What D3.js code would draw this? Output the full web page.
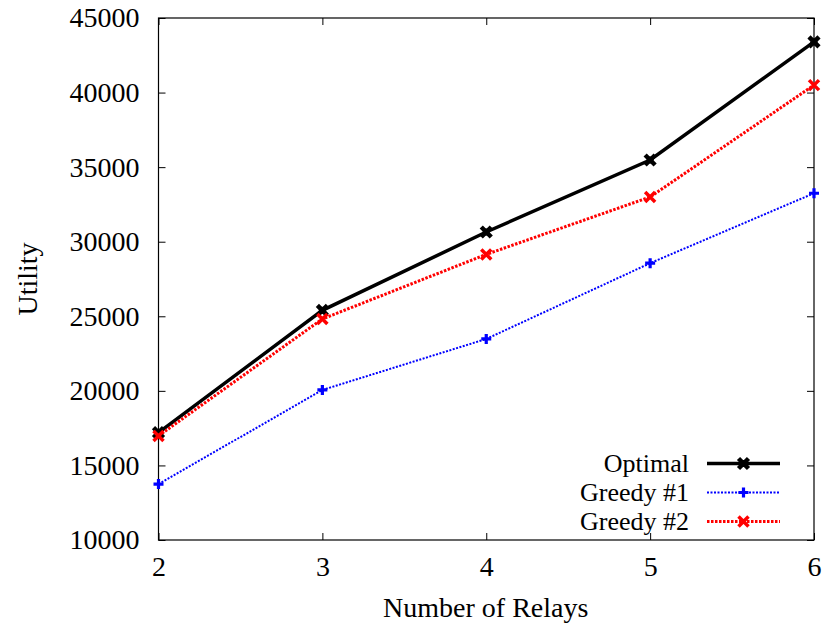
<!DOCTYPE html>
<html><head><meta charset="utf-8">
<script src="https://cdn.jsdelivr.net/npm/d3@7"></script>
<style>body{margin:0;background:#fff}svg{display:block}svg text{font-family:"Liberation Serif","Times New Roman",Times,serif !important;fill:#000}</style>
</head><body><svg id="c" width="827" height="630"></svg>
<script>
const relays = [2, 3, 4, 5, 6];
const optimal = [17200, 25400, 30650, 35480, 43400];
const greedy1 = [13750, 20060, 23480, 28560, 33250];
const greedy2 = [16980, 24820, 29150, 33000, 40500];
const yTicks = [10000, 15000, 20000, 25000, 30000, 35000, 40000, 45000];
const seriesNames = ["Optimal", "Greedy #1", "Greedy #2"];

const FONT = "'Liberation Serif', 'Times New Roman', serif";
const FS = 28;
const LFS = 26;
const svg = d3.select("#c");
const L = 158.5, R = 814, T = 18, B = 540;
const x = d3.scaleLinear().domain([2, 6]).range([L, R]);
const y = d3.scaleLinear().domain([10000, 45000]).range([B, T]);

const series = [
  {name: seriesNames[0], vals: optimal, color: "#000", width: 3.5, dash: null, marker: "bow"},
  {name: seriesNames[1], vals: greedy1, color: "#0000ff", width: 2, dash: "2,1.5", marker: "plus"},
  {name: seriesNames[2], vals: greedy2, color: "#ff0000", width: 3, dash: "2.5,1.5", marker: "x"}
];

const g = svg.append("g");
g.append("g").attr("transform", `translate(${L},0)`)
  .call(d3.axisLeft(y).tickValues(yTicks).tickSize(-7).tickPadding(19).tickFormat(d3.format("d")));
g.append("g").attr("transform", `translate(${R},0)`)
  .call(d3.axisRight(y).tickValues(yTicks).tickSize(-7).tickFormat(""));
g.append("g").attr("transform", `translate(0,${B})`)
  .call(d3.axisBottom(x).tickValues(relays).tickSize(-7).tickPadding(16).tickFormat(d3.format("d")));
g.append("g").attr("transform", `translate(0,${T})`)
  .call(d3.axisTop(x).tickValues(relays).tickSize(-7).tickFormat(""));
g.selectAll("g").attr("font-family", FONT).attr("font-size", FS);
g.selectAll(".domain").remove();
g.selectAll(".tick line").attr("stroke", "#000").attr("stroke-width", 1);
g.selectAll(".tick text").style("font-family", FONT).style("font-size", FS + "px");
svg.append("rect").attr("x", L).attr("y", T).attr("width", R - L).attr("height", B - T)
  .attr("fill", "none").attr("stroke", "#000").attr("stroke-width", 1.2);

svg.append("text").attr("x", (L + R) / 2 - 0.5).attr("y", 617).attr("text-anchor", "middle")
  .style("font-family", FONT).style("font-size", FS + "px").text("Number of Relays");
svg.append("text").attr("transform", "translate(37,279) rotate(-90)").attr("text-anchor", "middle")
  .style("font-family", FONT).style("font-size", FS + "px").text("Utility");

function marker(sel, type, color) {
  if (type === "plus") {
    sel.append("path").attr("d", "M-5,0H5M0,-5V5").attr("stroke", color).attr("stroke-width", 3.2);
  } else if (type === "x") {
    sel.append("path").attr("d", "M-5,-5L5,5M-5,5L5,-5").attr("stroke", color).attr("stroke-width", 3.5);
  } else {
    sel.append("path").attr("d", "M-5,-5L5,5M-5,5L5,-5").attr("stroke", color).attr("stroke-width", 4.5);
    sel.append("rect").attr("x", -3.5).attr("y", -3.5).attr("width", 7).attr("height", 7).attr("fill", color);
  }
}

const line = d3.line().x((d, i) => x(relays[i])).y(d => y(d));
series.forEach(s => {
  svg.append("path").datum(s.vals).attr("d", line).attr("fill", "none")
    .attr("stroke", s.color).attr("stroke-width", s.width)
    .attr("stroke-dasharray", s.dash).attr("stroke-linejoin", "miter");
});
series.forEach(s => {
  s.vals.forEach((v, i) => {
    const m = svg.append("g").attr("transform", `translate(${x(relays[i])},${y(v)})`);
    marker(m, s.marker, s.color);
  });
});

const legY = [463.5, 492.5, 521.5];
series.forEach((s, i) => {
  svg.append("text").attr("x", 689).attr("y", legY[i]).attr("dy", "0.33em")
    .attr("text-anchor", "end").style("font-family", FONT).style("font-size", LFS + "px").text(s.name);
  svg.append("line").attr("x1", 707).attr("x2", 780).attr("y1", legY[i]).attr("y2", legY[i])
    .attr("stroke", s.color).attr("stroke-width", s.width).attr("stroke-dasharray", s.dash);
  const m = svg.append("g").attr("transform", `translate(743.5,${legY[i]})`);
  marker(m, s.marker, s.color);
});
</script></body></html>
